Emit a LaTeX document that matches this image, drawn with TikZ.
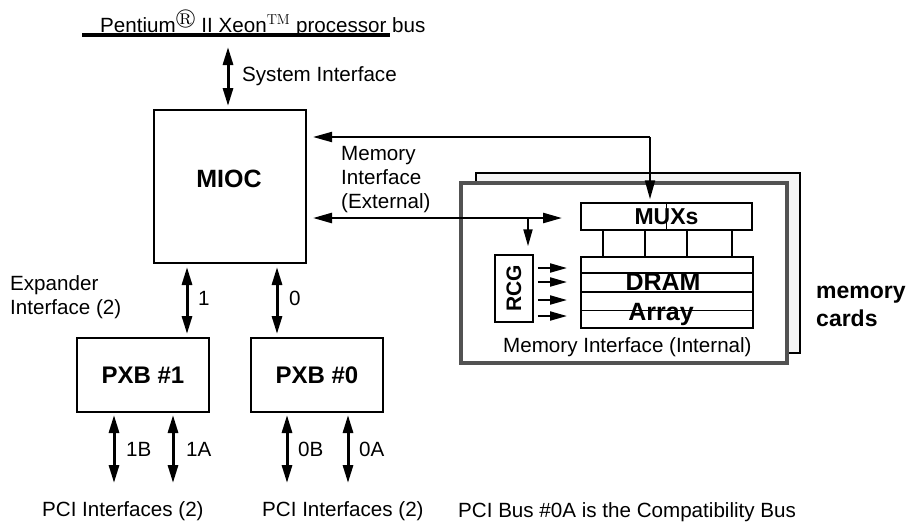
\documentclass[tikz,border=0pt]{standalone}
\usepackage{amssymb}
\usepackage[no-math]{fontspec}
\setmainfont{Liberation Sans}
\usetikzlibrary{arrows.meta,calc}
\begin{document}
\begin{tikzpicture}[x=1pt,y=-1pt,
  box/.style={draw, line width=2pt, inner sep=0pt},
  ibox/.style={draw, line width=1.5pt, inner sep=0pt},
  bidir/.style={line width=3pt, {Triangle[length=18pt,width=10pt]}-{Triangle[length=18pt,width=10pt]}},
  marr/.style={line width=2pt, -{Triangle[length=19pt,width=10pt]}},
  mbidir/.style={line width=2.5pt, {Triangle[length=19pt,width=10pt]}-{Triangle[length=19pt,width=10pt]}},
  sarr/.style={line width=2pt, -{Triangle[length=17pt,width=9pt]}},
  reg/.style={font=\fontsize{20.6}{24}\selectfont, inner sep=0pt},
  bld/.style={font=\fontsize{24}{28}\selectfont\bfseries, inner sep=0pt},
]
\useasboundingbox (0,0) rectangle (920,523);

% processor bus
\coordinate (busL) at (82,34.5);
\coordinate (busR) at (390,34.5);
\draw[line width=4pt] (busL) -- (busR);
\node[reg, anchor=base west] (bustxt) at (100,32) {Pentium$^{\circledR}$ II Xeon$^{\mathrm{TM}}$ processor bus};

% MIOC
\node[box, minimum width=152pt, minimum height=153pt] (mioc) at (230,186.5) {};
\node[bld, font=\fontsize{25}{28}\selectfont\bfseries] (miocl) at (229,179) {MIOC};

% system interface
\coordinate (systop) at (228,47);
\draw[bidir] (systop) -- ([yshift=3pt]mioc.north -| systop);
\node[reg, anchor=base west] (syslbl) at (242,81.7) {System Interface};

% memory cards
\node[draw, line width=1.5pt, fill=black!4, minimum width=324pt, minimum height=180pt, inner sep=0pt] (cardB) at (638,263) {};
\node[draw=black!68, line width=4pt, fill=white, minimum width=326pt, minimum height=180pt, inner sep=0pt] (cardF) at (624,273) {};

% MUXs
\node[ibox, minimum width=171pt, minimum height=27pt, font=\fontsize{23}{26}\selectfont\bfseries] (mux) at (666.5,216.5) {MUXs};
\draw[line width=1.5pt] (mux.north) -- (mux.south);

% DRAM array
\node[ibox, minimum width=172pt, minimum height=71pt] (dram) at (667,292.5) {};
\node[bld, font=\fontsize{25}{28}\selectfont\bfseries] (dramt) at (663,282) {DRAM};
\node[bld, font=\fontsize{25}{28}\selectfont\bfseries] (arrayt) at (661,314) {Array};
\foreach \f in {0.23,0.49,0.75}{
  \draw[line width=1.5pt] ($(dram.north west)!\f!(dram.south west)$) -- ($(dram.north east)!\f!(dram.south east)$);
}
% links MUXs -> DRAM
\foreach \xx in {603,645,687,732}{
  \coordinate (lk) at (\xx,0);
  \draw[line width=2pt] (lk |- mux.south) -- (lk |- dram.north);
}

% RCG
\node[ibox, minimum width=38pt, minimum height=67pt] (rcg) at (514,288.5) {};
\node[bld, font=\fontsize{21}{24}\selectfont\bfseries, rotate=90] (rcgt) at (rcg.center) {RCG};
\foreach \yy in {268,282,300,316}{
  \coordinate (ry) at (0,\yy);
  \coordinate (rtip) at (567,\yy);
  \draw[sarr] ([xshift=4pt]rcg.east |- ry) -- (rtip);
}
\node[reg, anchor=base west] (milbl) at (503,352) {Memory Interface (Internal)};

% memory interface external
\coordinate (mjoint) at (650,137);
\draw[line width=2pt] (mjoint) -- ([xshift=20pt]mioc.east |- mjoint);
\draw[marr] (mjoint) -- ([yshift=3pt]mux.north -| mjoint);
\draw[marr] (mjoint) -- ([xshift=6pt]mioc.east |- mjoint);
\coordinate (mtip) at (562,218);
\coordinate (mlow) at (528,218);
\draw[mbidir] ([xshift=6pt]mioc.east |- mtip) -- (mtip);
\draw[sarr] (mlow) -- ([yshift=8pt]rcg.north -| mlow);
\node[reg, anchor=north west, align=left] (mxlbl) at (341,146.5) {Memory\\Interface\\(External)};

% memory cards label
\node[bld, font=\fontsize{23}{28}\selectfont\bfseries, anchor=base west] (mc1) at (816,298) {memory};
\node[bld, font=\fontsize{23}{28}\selectfont\bfseries, anchor=base west] (mc2) at (816,326) {cards};

% PXBs
\node[box, minimum width=132pt, minimum height=74pt, bld] (pxb1) at (143,375) {PXB \#1};
\node[box, minimum width=132pt, minimum height=74pt, bld] (pxb0) at (317,375) {PXB \#0};

\coordinate (a1) at (187,0);
\coordinate (a0) at (277,0);
\draw[bidir] ([yshift=-3pt]mioc.south -| a1) -- ([yshift=3pt]pxb1.north -| a1);
\draw[bidir] ([yshift=-3pt]mioc.south -| a0) -- ([yshift=3pt]pxb0.north -| a0);
\node[reg, anchor=base west] (l1) at (198,305) {1};
\node[reg, anchor=base west] (l0) at (289,305) {0};
\node[reg, anchor=north west, align=left] (explbl) at (10,275) {Expander\\Interface (2)};

% PCI arrows
\coordinate (p1b) at (114,483);
\coordinate (p1a) at (173,483);
\coordinate (p0b) at (287,483);
\coordinate (p0a) at (348,483);
\draw[bidir] ([yshift=-2pt]pxb1.south -| p1b) -- (p1b);
\draw[bidir] ([yshift=-2pt]pxb1.south -| p1a) -- (p1a);
\draw[bidir] ([yshift=-2pt]pxb0.south -| p0b) -- (p0b);
\draw[bidir] ([yshift=-2pt]pxb0.south -| p0a) -- (p0a);
\node[reg, anchor=base west] (l1b) at (126,456) {1B};
\node[reg, anchor=base west] (l1a) at (186,456) {1A};
\node[reg, anchor=base west] (l0b) at (298,456) {0B};
\node[reg, anchor=base west] (l0a) at (359,456) {0A};

\node[reg, anchor=base west] (pci1) at (42,516) {PCI Interfaces (2)};
\node[reg, anchor=base west] (pci0) at (262,516) {PCI Interfaces (2)};
\node[reg, anchor=base west] (compat) at (458,517) {PCI Bus \#0A is the Compatibility Bus};
\end{tikzpicture}
\end{document}
